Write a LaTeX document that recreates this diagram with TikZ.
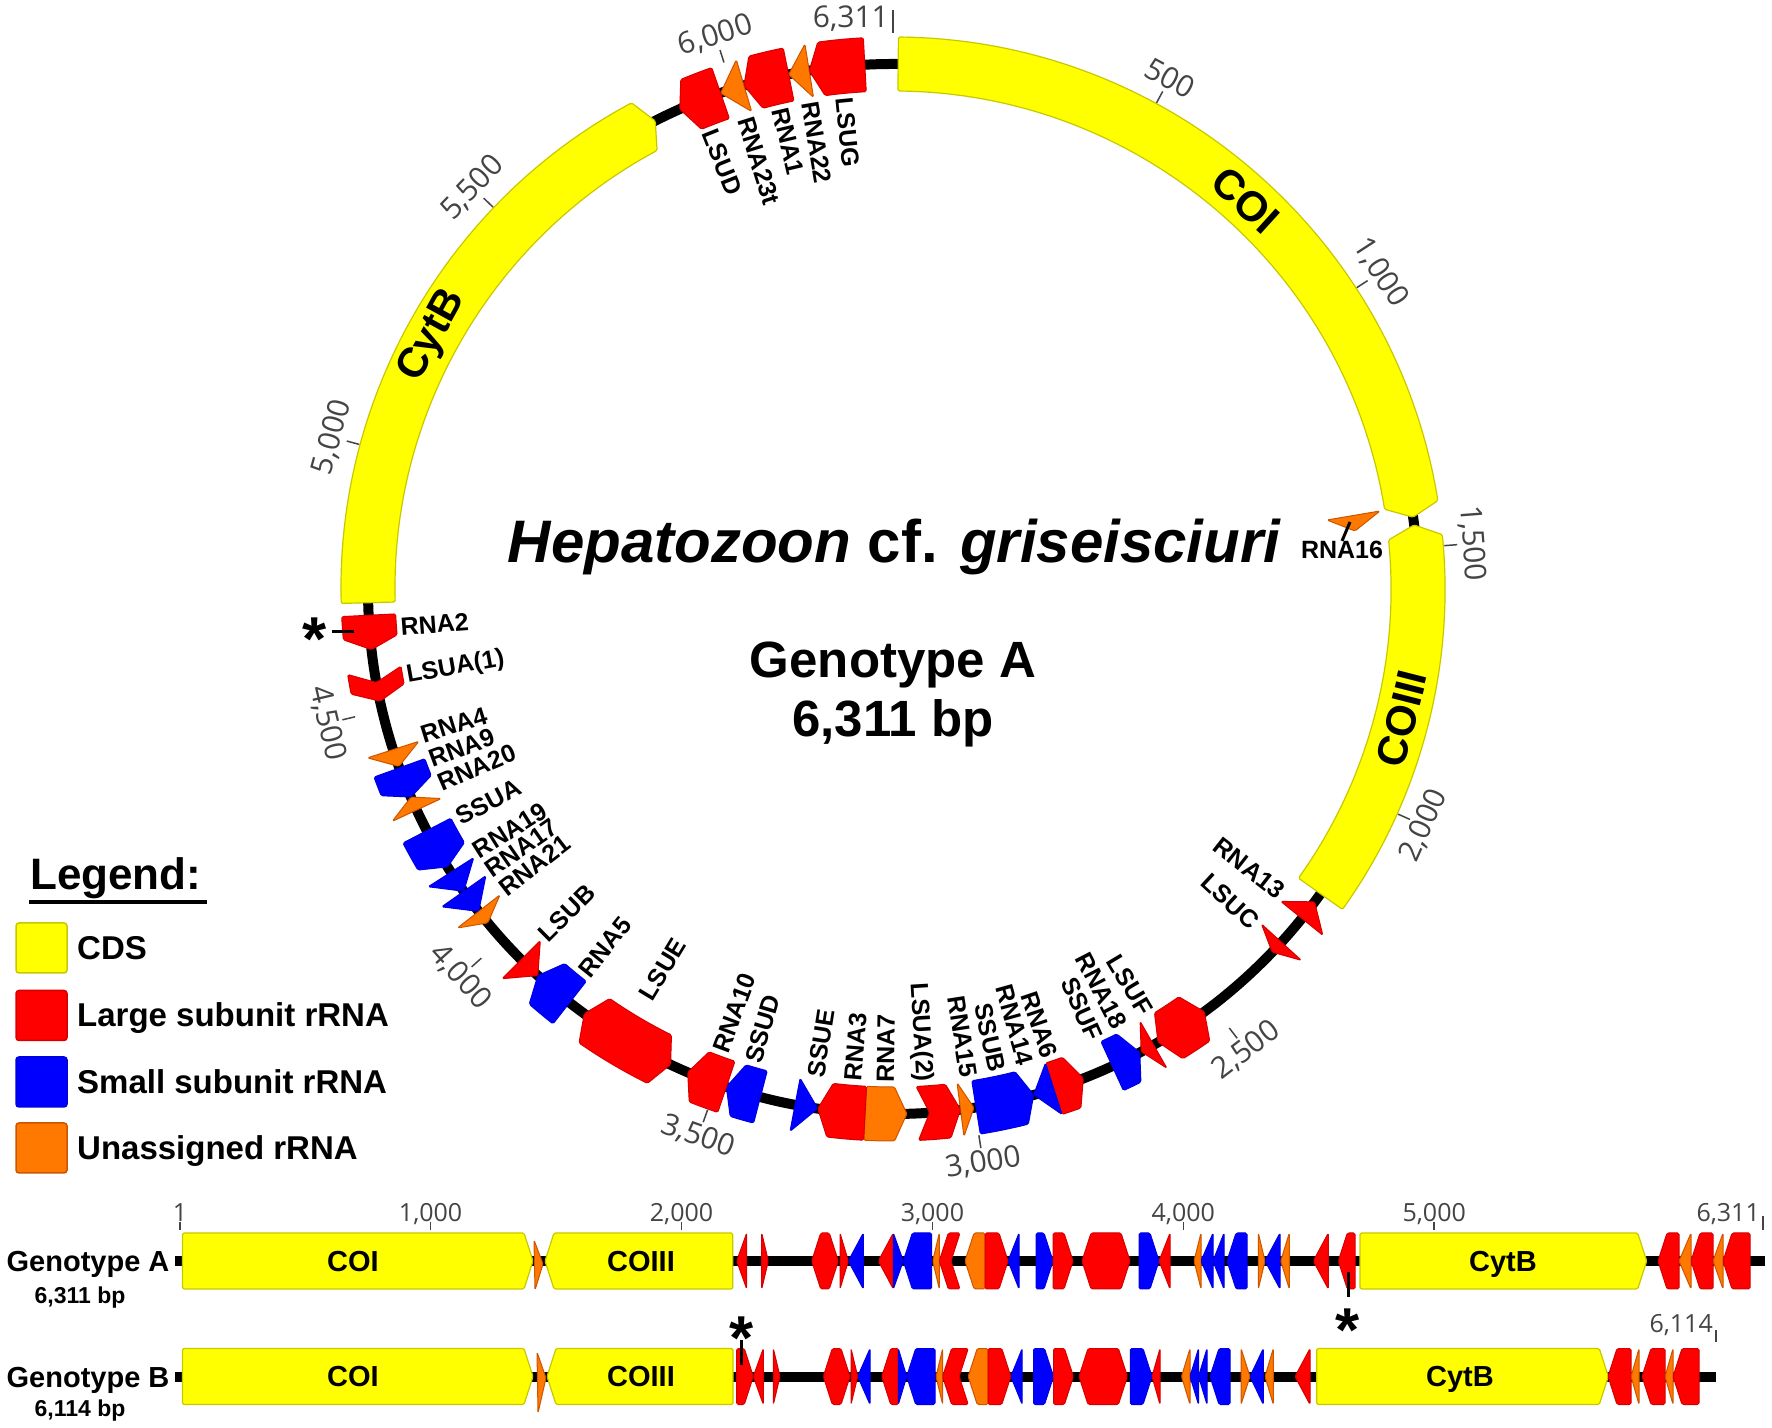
\documentclass[tikz,border=0pt]{standalone}
\usepackage{fontspec}
\setmainfont{Liberation Sans}
\newfontfamily\tickfont{Open Sans}
\newcommand{\setfs}[1]{\fontsize{#1}{#1}\selectfont}
\definecolor{cdsY}{RGB}{255,255,0}
\definecolor{cdsYd}{RGB}{200,200,0}
\definecolor{lsuR}{RGB}{255,0,0}
\definecolor{lsuRd}{RGB}{215,0,0}
\definecolor{ssuB}{RGB}{0,0,255}
\definecolor{ssuBd}{RGB}{0,0,225}
\definecolor{unaO}{RGB}{255,120,0}
\definecolor{unaOd}{RGB}{205,85,0}
\definecolor{tickgray}{RGB}{68,68,68}
\tikzset{
 fY/.style={fill=cdsY,draw=cdsYd,line width=1.2pt,line join=round,rounded corners=1.5pt},
 fR/.style={fill=lsuR,draw=lsuRd,line width=1pt,line join=round,rounded corners=1.5pt},
 fB/.style={fill=ssuB,draw=ssuBd,line width=1pt,line join=round,rounded corners=1.5pt},
 fO/.style={fill=unaO,draw=unaOd,line width=1pt,line join=round,rounded corners=1.5pt},
 clabel/.style={font=\setfs{25pt}\bfseries,inner sep=0pt},
 cdslab/.style={font=\setfs{42pt}\bfseries,inner sep=0pt},
 lcds/.style={font=\setfs{29pt}\bfseries,inner sep=0pt,anchor=base},
 ctick/.style={font=\tickfont\setfs{30pt},text=tickgray,inner sep=0pt},
 ltick/.style={font=\tickfont\setfs{25pt},text=tickgray,inner sep=0pt},
 tickline/.style={draw=tickgray,line width=1.5pt},
 legbox/.style={minimum width=51pt,minimum height=50pt,rounded corners=3pt,line width=1.5pt,inner sep=0pt},
 legtext/.style={font=\setfs{33pt}\bfseries,inner sep=0pt,anchor=base west},
 star/.style={font=\setfs{62pt}\bfseries,inner sep=0pt,anchor=base},
 backbone/.style={line width=10pt,black}
}
% circular feature: p1, p2, type (1 fwd,2 rev,3 notched rev,4 double), style
\newcommand{\cfeat}[4]{%
 \pgfmathsetmacro{\fA}{90-(#1-1)/6311*360}%
 \pgfmathsetmacro{\fB}{90-(#2-1)/6311*360}%
 \pgfmathsetmacro{\fAh}{\fA-1.35}%
 \pgfmathsetmacro{\fBh}{\fB+1.35}%
 \pgfmathtruncatemacro{\ftri}{(\fA-\fB)<2.9 ? 1 : 0}%
 \ifnum\ftri=1
  \ifnum#3=1
   \path[#4] (\fA:552pt) -- (\fB:525pt) -- (\fA:498pt) -- cycle;
  \else
   \path[#4] (\fB:552pt) -- (\fA:525pt) -- (\fB:498pt) -- cycle;
  \fi
 \else
  \ifcase#3\or
   \path[#4] (\fA:552pt) arc[start angle=\fA,end angle=\fBh,radius=552pt] -- (\fB:525pt) -- (\fBh:498pt) arc[start angle=\fBh,end angle=\fA,radius=498pt] -- cycle;
  \or
   \path[#4] (\fAh:552pt) arc[start angle=\fAh,end angle=\fB,radius=552pt] -- (\fB:498pt) arc[start angle=\fB,end angle=\fAh,radius=498pt] -- (\fA:525pt) -- cycle;
  \or
   \path[#4] (\fAh:552pt) arc[start angle=\fAh,end angle=\fB,radius=552pt] -- (\fBh:525pt) -- (\fB:498pt) arc[start angle=\fB,end angle=\fAh,radius=498pt] -- (\fA:525pt) -- cycle;
  \or
   \path[#4] (\fAh:552pt) arc[start angle=\fAh,end angle=\fBh,radius=552pt] -- (\fB:525pt) -- (\fBh:498pt) arc[start angle=\fBh,end angle=\fAh,radius=498pt] -- (\fA:525pt) -- cycle;
  \fi
 \fi}
% linear feature: x1, x2, type, style, ycenter
\newcommand{\lfeat}[5]{%
 \pgfmathsetmacro{\lA}{#1}\pgfmathsetmacro{\lB}{#2}%
 \pgfmathsetmacro{\lAh}{#1+9}\pgfmathsetmacro{\lBh}{#2-9}%
 \pgfmathsetmacro{\lT}{#5+28}\pgfmathsetmacro{\lD}{#5-28}%
 \pgfmathtruncatemacro{\ltri}{(#2-#1)<16 ? 1 : 0}%
 \ifnum\ltri=1
  \ifnum#3=1
   \path[#4] (\lA,\lT) -- (\lB,#5) -- (\lA,\lD) -- cycle;
  \else
   \path[#4] (\lB,\lT) -- (\lA,#5) -- (\lB,\lD) -- cycle;
  \fi
 \else
  \ifcase#3\or
   \path[#4] (\lA,\lT) -- (\lBh,\lT) -- (\lB,#5) -- (\lBh,\lD) -- (\lA,\lD) -- cycle;
  \or
   \path[#4] (\lAh,\lT) -- (\lB,\lT) -- (\lB,\lD) -- (\lAh,\lD) -- (\lA,#5) -- cycle;
  \or
   \path[#4] (\lAh,\lT) -- (\lB,\lT) -- (\lBh,#5) -- (\lB,\lD) -- (\lAh,\lD) -- (\lA,#5) -- cycle;
  \or
   \path[#4] (\lAh,\lT) -- (\lBh,\lT) -- (\lB,#5) -- (\lBh,\lD) -- (\lAh,\lD) -- (\lA,#5) -- cycle;
  \fi
 \fi}
\begin{document}
\begin{tikzpicture}[x=1pt,y=1pt]
\useasboundingbox (0,0) rectangle (1772,1427);
\fill[white] (0,0) rectangle (1772,1427);

% ================= circular map =================
\begin{scope}[shift={(893,838)}]
 \draw[backbone] (0,0) circle[radius=525pt];
 \foreach \pa/\pb/\ty/\st in {
  11/1441/1/fY, 1456/2201/2/fY,
  2220/2260/2/fR, 2320/2346/1/fR, 2519/2625/4/fR, 2635/2662/1/fR, 2665/2724/2/fB,
  2784/2844/2/fR, 2844/2884/1/fB, 2884/2997/2/fB, 3001/3027/2/fO, 3027/3110/3/fR,
  3130/3210/2/fO, 3210/3301/1/fR, 3301/3345/2/fB, 3413/3481/1/fB, 3481/3560/1/fR,
  3596/3788/4/fR, 3823/3903/1/fB, 3903/3947/2/fR, 4042/4070/2/fO, 4070/4118/2/fB,
  4118/4162/2/fB, 4174/4254/2/fB, 4298/4325/1/fO, 4325/4385/2/fB, 4388/4422/2/fO,
  4518/4578/3/fR, 4618/4684/2/fR,
  4708/5840/1/fY,
  5892/5976/2/fR, 5976/6023/2/fO, 6023/6111/2/fR, 6111/6151/2/fO, 6151/6258/2/fR}
  {\cfeat{\pa}{\pb}{\ty}{\st}}
 % CDS labels
 \node[cdslab,rotate=-42.2] (cCOI) at (47.8:525pt) {COI};
 \node[cdslab,rotate=75.7] (cCOIII) at (-14.3:525pt) {COIII};
 \node[cdslab,rotate=61.2] (cCytB) at (151.2:525pt) {CytB};
 % ticks
 \foreach \pp/\tlab in {500/500,1000/{1,000},1500/{1,500},2000/{2,000},2500/{2,500},3000/{3,000},3500/{3,500},4000/{4,000},4500/{4,500},5000/{5,000},5500/{5,500},6000/{6,000}} {
  \pgfmathsetmacro{\tkA}{90-(\pp-1)/6311*360}
  \pgfmathsetmacro{\tkR}{mod(\tkA-90+720,360)}
  \pgfmathtruncatemacro{\tkF}{and(\tkR>90,\tkR<=270)}
  \pgfmathsetmacro{\tkRot}{\tkR-180*\tkF}
  \draw[tickline] (\tkA:553pt) -- (\tkA:566pt);
  \node[ctick,rotate=\tkRot] (ct\pp) at (\tkA:581pt) {\tlab};
 }
 \draw[tickline] (90:556pt) -- (90:579pt);
 % feature labels: angle / text / radius
 \foreach \lbA/\lbT/\lbS [count=\i] in {111.8/LSUD/494,107.4/RNA23t/494,103.2/RNA1/494,99.7/RNA22/494,95.7/LSUG/494,
   184.4/RNA2/494,190.2/LSUA(1)/494,197.2/RNA4/494,200.2/RNA9/494,203.2/RNA20/494,207.8/SSUA/492,212.2/RNA19/494,214.9/RNA17/494,217.6/RNA21/494,
   224.8/LSUB/494,231.2/RNA5/494,238.8/LSUE/478,249.5/RNA10/494,253.5/SSUD/494,261/SSUE/494,265.3/RNA3/494,269.1/RNA7/494,
   273.5/LSUA(2)/494,278.8/RNA15/494,282.2/SSUB/494,285.6/RNA14/494,288.6/RNA6/494,294.2/SSUF/494,297.4/RNA18/494,300.9/LSUF/494,
   317.2/LSUC/494,321.9/RNA13/494} {
  \pgfmathsetmacro{\lbD}{mod(\lbA+180+720,360)}
  \pgfmathtruncatemacro{\lbF}{and(\lbD>90,\lbD<=270)}
  \pgfmathsetmacro{\lbR}{\lbD-180*\lbF}
  \ifnum\lbF=1
   \node[clabel,anchor=east,rotate=\lbR] (cl\i) at (\lbA:\lbS pt) {\lbT};
  \else
   \node[clabel,anchor=west,rotate=\lbR] (cl\i) at (\lbA:\lbS pt) {\lbT};
  \fi
 }
\end{scope}
\node[ctick,anchor=base east] (ct6311) at (889,1399) {6,311};

% RNA16 (off-track)
\path[fO] (1327,907) -- (1380,916) -- (1355,896) -- cycle;
\node[clabel] (rna16) at (1342,877) {RNA16};
\coordinate (r16a) at (1350,905);
\draw[line width=3pt] (r16a) -- (rna16.north);
% asterisk at RNA2
\node[star] (starC) at (315,766) {*};
\coordinate (starCl) at (332,795);
\coordinate (starCr) at (354,795);
\draw[line width=3pt] (starCl) -- (starCr);

% titles
\node[anchor=base,inner sep=0pt,font=\setfs{60pt}\bfseries] (title) at (894,864) {\itshape Hepatozoon\/ \upshape cf. \itshape griseisciuri};
\node[anchor=base,inner sep=0pt,font=\setfs{51pt}\bfseries] (gA) at (893,749) {Genotype A};
\node[anchor=base,inner sep=0pt,font=\setfs{51pt}\bfseries] (bpA) at (893,690) {6,311 bp};

% ================= legend =================
\node[anchor=base west,inner sep=0pt,font=\setfs{44pt}\bfseries] (legT) at (30,537) {Legend:};
\draw[line width=4pt] (29,525) -- (207,525);
\node[legbox,fill=cdsY,draw=cdsYd] (lbY) at (41.5,479) {};
\node[legbox,fill=lsuR,draw=lsuRd] (lbR) at (41.5,411.5) {};
\node[legbox,fill=ssuB,draw=ssuBd] (lbB) at (41.5,345) {};
\node[legbox,fill=unaO,draw=unaOd] (lbO) at (41.5,279) {};
\node[legtext] (ltY) at (77,467) {CDS};
\node[legtext] (ltR) at (77,400) {Large subunit rRNA};
\node[legtext] (ltB) at (77,333) {Small subunit rRNA};
\node[legtext] (ltO) at (77,267) {Unassigned rRNA};

% ================= linear maps =================
\node[anchor=base,inner sep=0pt,font=\setfs{29pt}\bfseries] (linA) at (88,155) {Genotype A};
\node[anchor=base,inner sep=0pt,font=\setfs{23pt}\bfseries] (linAbp) at (80,123) {6,311 bp};
\node[anchor=base,inner sep=0pt,font=\setfs{29pt}\bfseries] (linB) at (88,40) {Genotype B};
\node[anchor=base,inner sep=0pt,font=\setfs{23pt}\bfseries] (linBbp) at (80,11) {6,114 bp};

\coordinate (bAs) at (175,166); \coordinate (bAe) at (1765,166);
\coordinate (bBs) at (175,50.5); \coordinate (bBe) at (1716,50.5);
\draw[backbone] (bAs) -- (bAe);
\draw[backbone] (bBs) -- (bBe);

% scale ticks (genotype A)
\foreach \xx/\tlab [count=\i] in {180/1,430.6/{1,000},681.5/{2,000},932.4/{3,000},1183.3/{4,000},1434.2/{5,000}} {
  \node[ltick,anchor=base] (lt\i) at (\xx,205) {\tlab};
  \draw[tickline] (\xx,205) -- (\xx,197);
}
\node[ltick,anchor=base east] (lt7) at (1760,205) {6,311};
\draw[tickline] (1763,211) -- (1763,197);
\node[ltick,anchor=base east] (lt8) at (1713,94) {6,114};
\draw[tickline] (1716,97) -- (1716,85);

% genotype A features
\path[fO] (534,187) -- (543,163) -- (535,137) -- cycle;
\foreach \xa/\xb/\ty/\st in {
  182.5/533/1/fY, 545/732.7/2/fY,
  736.7/746.7/2/fR, 761.7/768.3/1/fR, 811.7/838.3/4/fR, 840/848.3/1/fR, 848.3/863.3/2/fB,
  878.3/893.3/2/fR, 893.3/903.3/1/fB, 903.3/931.7/2/fB, 932.7/939.3/2/fO, 939.3/960/3/fR,
  965/985/2/fO, 985/1008/1/fR, 1008/1019/2/fB, 1036/1053/1/fB, 1053/1073/1/fR,
  1082/1130/4/fR, 1139/1159/1/fB, 1159/1170/2/fR, 1194/1201/2/fO, 1201/1213/2/fB,
  1213/1224/2/fB, 1227/1247/2/fB, 1258.3/1265/1/fO, 1265/1280/2/fB, 1280.7/1289.3/2/fO,
  1313.3/1328.3/3/fR, 1338.3/1355/2/fR, 1360/1646.7/1/fY,
  1658/1679/2/fR, 1679/1691/2/fO, 1691/1713/2/fR, 1713/1723/2/fO, 1723/1750/2/fR}
  {\lfeat{\xa}{\xb}{\ty}{\st}{166}}
% genotype B features
\path[fO] (537,75) -- (546,49) -- (538,14) -- cycle;
\foreach \xa/\xb/\ty/\st in {
  182.5/533/1/fY, 547/733/2/fY,
  736.7/753.3/1/fR, 753.3/763.3/2/fR, 773.3/780/1/fR, 823.3/850/4/fR, 851/857.7/1/fR,
  857.7/870/2/fB, 881.7/898.3/2/fR, 898.3/906.7/1/fB, 906.7/935/2/fB, 936/942.7/2/fO,
  942.6/968.2/3/fR, 968.2/988/2/fO, 988/1010.8/1/fR, 1010.8/1022.2/2/fB, 1033.6/1053.5/1/fB,
  1053.5/1073.4/1/fR, 1079/1127.4/4/fR, 1130.3/1152/1/fB, 1152/1160/2/fR, 1181.5/1190/2/fO,
  1190/1198.5/2/fB, 1198.5/1207/2/fB, 1210/1230/2/fB, 1241/1250/1/fO, 1250/1263.3/2/fB,
  1265/1273.3/2/fO, 1295/1310/3/fR, 1316.7/1608.3/1/fY,
  1608/1631/2/fR, 1631/1639/2/fO, 1642/1665/2/fR, 1665/1673/2/fO, 1673/1699/2/fR}
  {\lfeat{\xa}{\xb}{\ty}{\st}{50.5}}
% CDS labels (linear)
\node[lcds] (lACOI) at (353,155.6) {COI};
\node[lcds] (lACOIII) at (641,155.6) {COIII};
\node[lcds] (lACytB) at (1503,155.6) {CytB};
\node[lcds] (lBCOI) at (353,40.1) {COI};
\node[lcds] (lBCOIII) at (641,40.1) {COIII};
\node[lcds] (lBCytB) at (1460,40.1) {CytB};
% asterisks (linear)
\node[star] (starA) at (1348,75) {*};
\coordinate (sAt) at (1348,155); \coordinate (sAb) at (1348,130);
\draw[line width=3pt] (sAt) -- (sAb);
\node[star] (starB) at (741.7,67) {*};
\coordinate (sBt) at (741.7,87); \coordinate (sBb) at (741.7,62);
\draw[line width=3pt] (sBt) -- (sBb);
\end{tikzpicture}
\end{document}
